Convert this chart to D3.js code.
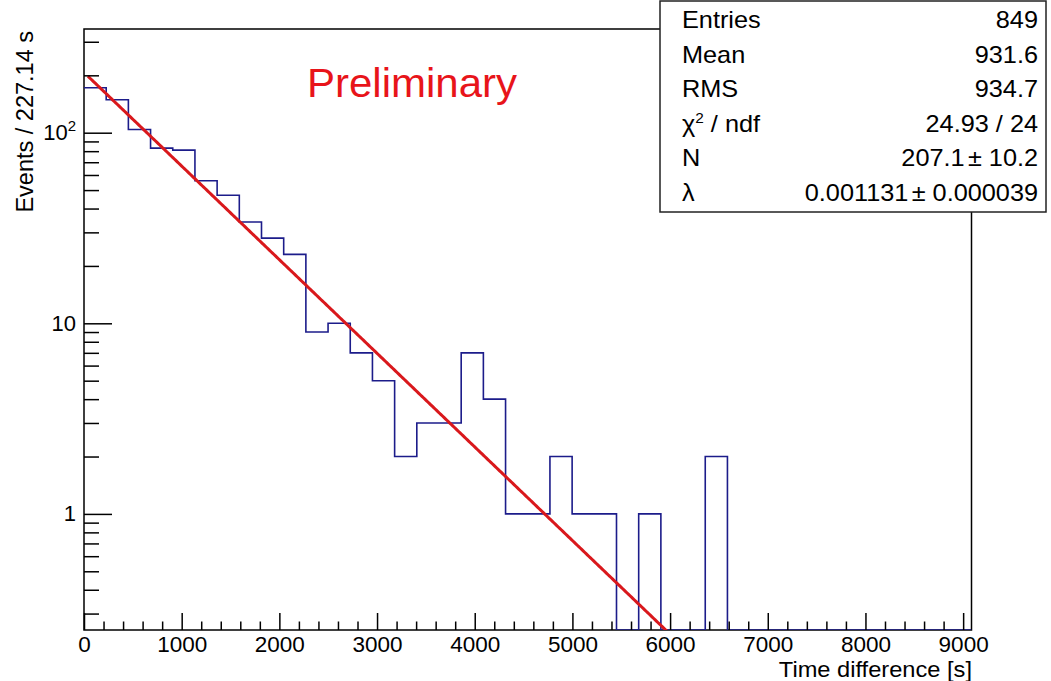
<!DOCTYPE html>
<html>
<head>
<meta charset="utf-8">
<script src="https://cdn.jsdelivr.net/npm/d3@7"></script>
<style>
  html, body { margin: 0; padding: 0; background: #fff; }
  svg { display: block; }
  text { font-family: "Liberation Sans", Arial, Helvetica, sans-serif; fill: #000; }
</style>
</head>
<body>
<svg id="chart" width="1051" height="681"></svg>
<script>
// ---------------- data ----------------
const binWidth = 227.14;
const binCounts = [172, 149, 104, 83, 81, 56, 47, 34, 28, 23,
                   9, 10, 7, 5, 2, 3, 3, 7, 4, 1,
                   1, 2, 1, 1, 0, 1, 0, 0, 2, 0,
                   0, 0, 0, 0, 0, 0, 0, 0, 0, 0];
const xMajorTicks = [0, 1000, 2000, 3000, 4000, 5000, 6000, 7000, 8000, 9000];
const yMajorTicks = [1, 10, 100];
const yMinorTicks = [0.3, 0.4, 0.5, 0.6, 0.7, 0.8, 0.9,
                     2, 3, 4, 5, 6, 7, 8, 9,
                     20, 30, 40, 50, 60, 70, 80, 90, 200, 300];
const fitN = 207.1;
const fitLambda = 0.001131;
const fitRange = [40, 9085];
const statLabels = ["Entries", "Mean", "RMS", "χ2 / ndf", "N", "λ"];
const statValues = ["849", "931.6", "934.7", "24.93 / 24", "207.1 ± 10.2", "0.001131 ± 0.000039"];
const yRange = [0.246, 350];

// ---------------- layout ----------------
const svg = d3.select("#chart");
const L = 84, R = 971.5, T = 29, B = 630;
const nBins = binCounts.length;
const xMax = nBins * binWidth;

const x = d3.scaleLinear().domain([0, xMax]).range([L, R]);
const y = d3.scaleLog().domain(yRange).range([B, T]);

svg.append("defs").append("clipPath").attr("id", "frame")
  .append("rect").attr("x", L).attr("y", T).attr("width", R - L).attr("height", B - T);

// frame
svg.append("rect").attr("x", L).attr("y", T).attr("width", R - L).attr("height", B - T)
  .attr("fill", "none").attr("stroke", "#000").attr("stroke-width", 1.5);

// histogram
const edges = d3.range(nBins + 1).map(i => i * binWidth);
const pts = binCounts.map((c, i) => [edges[i], c]);
pts.push([edges[nBins], binCounts[nBins - 1]]);
const yv = c => c > 0 ? y(c) : y.range()[0];
const histLine = d3.line().x(d => x(d[0])).y(d => yv(d[1])).curve(d3.curveStepAfter);
svg.append("path").attr("d", histLine(pts))
  .attr("fill", "none").attr("stroke", "#1c1c8a").attr("stroke-width", 1.6)
  .attr("clip-path", "url(#frame)");

// fit
const fitT = d3.range(fitRange[0], fitRange[1], 15);
const fitLine = d3.line().x(t => x(t)).y(t => y(fitN * Math.exp(-fitLambda * t)));
svg.append("path").attr("d", fitLine(fitT))
  .attr("fill", "none").attr("stroke", "#d9181c").attr("stroke-width", 3)
  .attr("clip-path", "url(#frame)");

// x axis
const xAxisMajor = d3.axisBottom(x).tickValues(xMajorTicks).tickSizeInner(-17).tickSizeOuter(0).tickPadding(6)
  .tickFormat(d3.format("d"));
const gx = svg.append("g").attr("transform", `translate(0,${B})`).call(xAxisMajor);
const xMinor = d3.range(200, xMax, 200).filter(v => v % 1000 !== 0);
svg.append("g").attr("transform", `translate(0,${B})`)
  .call(d3.axisBottom(x).tickValues(xMinor).tickSizeInner(-8.5).tickSizeOuter(0).tickFormat(""));

// y axis
const gy = svg.append("g").attr("transform", `translate(${L},0)`)
  .call(d3.axisLeft(y).tickValues(yMajorTicks).tickSizeInner(-28).tickSizeOuter(0).tickPadding(8)
  .tickFormat(d => d === 100 ? "10" : String(d)));
svg.append("g").attr("transform", `translate(${L},0)`)
  .call(d3.axisLeft(y).tickValues(yMinorTicks).tickSizeInner(-15).tickSizeOuter(0).tickFormat(""));

svg.selectAll(".domain").attr("stroke", "none");
svg.selectAll(".tick line").attr("stroke", "#000").attr("stroke-width", 1.5);
gx.selectAll("text").attr("font-size", 22.5).attr("fill", "#000")
  .style("font-family", '"Liberation Sans", Arial, sans-serif');
gy.selectAll("text").attr("font-size", 22).attr("fill", "#000")
  .style("font-family", '"Liberation Sans", Arial, sans-serif');
gy.selectAll(".tick").filter(d => d === 100).select("text")
  .append("tspan").attr("font-size", 15).attr("dy", "-9").text("2");

// axis titles
svg.append("text").attr("transform", `translate(33,${T + 2}) rotate(-90)`)
  .attr("text-anchor", "end").attr("font-size", 23.5).text("Events / 227.14 s");
svg.append("text").attr("transform", "translate(972,676.5) scale(1.1,1)")
  .attr("text-anchor", "end").attr("font-size", 21.5).text("Time difference [s]");

// preliminary
svg.append("text").attr("transform", `translate(307,97) scale(1.05,1)`)
  .attr("font-size", 40).attr("fill", "#e8141a").style("fill", "#e8141a").text("Preliminary");

// stats box
const box = svg.append("g");
box.append("rect").attr("x", 660).attr("y", 1).attr("width", 386).attr("height", 211)
  .attr("fill", "#fff").attr("stroke", "#222").attr("stroke-width", 1.5);
const rowY = d3.scalePoint().domain(d3.range(statLabels.length)).range([28, 201]);
statLabels.forEach((lab, i) => {
  const t = box.append("text").attr("transform", `translate(682,${rowY(i)}) scale(1.1,1)`)
    .attr("font-size", 23);
  if (lab.startsWith("χ2")) {
    t.append("tspan").text("χ");
    t.append("tspan").attr("font-size", 14).attr("dy", -9).text("2");
    t.append("tspan").attr("dy", 9).text(" / ndf");
  } else {
    t.text(lab);
  }
  const v = box.append("text").attr("transform", `translate(1038,${rowY(i)}) scale(1.1,1)`)
    .attr("text-anchor", "end").attr("font-size", 23);
  if (statValues[i].includes("±")) {
    const parts = statValues[i].split(" ± ");
    v.append("tspan").text(parts[0]);
    v.append("tspan").attr("dx", 3).text("± ");
    v.append("tspan").text(parts[1]);
  } else {
    v.text(statValues[i]);
  }
});
</script>
</body>
</html>
